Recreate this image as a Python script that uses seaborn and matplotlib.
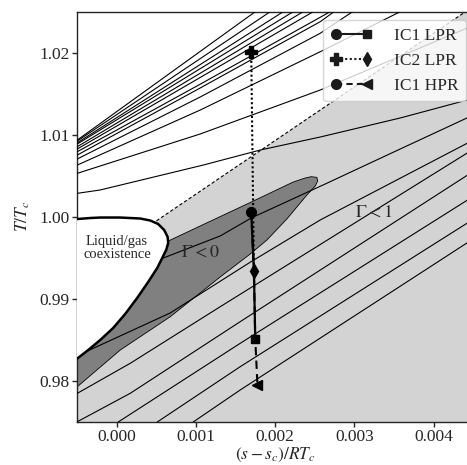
import numpy as np
import pandas as pd
import matplotlib
matplotlib.use("Agg")
import matplotlib.pyplot as plt
import seaborn as sns
from matplotlib.lines import Line2D
from matplotlib.legend_handler import HandlerTuple, HandlerLine2D

sns.set_theme(style="ticks")
plt.rcParams["font.family"] = ["Liberation Serif", "DejaVu Serif"]
plt.rcParams["mathtext.fontset"] = "stix"
plt.rcParams["axes.linewidth"] = 1.0

# ---------------- data ----------------
x_ticks = [0.000, 0.001, 0.002, 0.003, 0.004]
x_tick_labels = ["0.000", "0.001", "0.002", "0.003", "0.004"]
y_ticks = [0.98, 0.99, 1.00, 1.01, 1.02]
y_tick_labels = ["0.98", "0.99", "1.00", "1.01", "1.02"]

# liquid/gas coexistence boundary
coex_s = [-0.00060, -0.000497, -0.000337, -0.000211, 0.000042, 0.000295, 0.000420, 0.000521,
          0.000597, 0.000641, 0.000648, 0.000622, 0.000572, 0.000509, 0.000395, 0.000256,
          0.000105, -0.000047, -0.000211, -0.000362, -0.000497, -0.00060]
coex_T = [0.99972, 0.99972, 0.99984, 0.99990, 0.99990, 0.99978, 0.99954, 0.99911,
          0.99838, 0.99752, 0.99679, 0.99594, 0.99496, 0.99374, 0.99204, 0.99009,
          0.98814, 0.98643, 0.98496, 0.98374, 0.98273, 0.98273]

# Gamma < 0 region
dark_s = [-0.00060, 0.000631, 0.001052, 0.001683, 0.002226, 0.002378, 0.002453, 0.002525,
          0.002535, 0.002504, 0.002399, 0.002146, 0.001894, 0.001683, 0.001304, 0.000673,
          0.000042, -0.00060]
dark_T = [0.98148, 0.99695, 0.99887, 1.00173, 1.00423, 1.00472, 1.00488, 1.00480,
          1.00435, 1.00374, 1.00265, 0.99972, 0.99716, 0.99545, 0.99265, 0.98780,
          0.98374, 0.97844]

# Gamma < 1 region (below dashed boundary)
gamma1_s = [0.00050, 0.00460, 0.00460, -0.00060, -0.00060, 0.00050]
gamma1_T = [0.99950, 1.02630, 0.97000, 0.97000, 0.98273, 0.99950]
dash_s = [0.00050, 0.00460]
dash_T = [0.99950, 1.02630]

# isolines, upper family
upper_s = [
    [-0.00050, -0.000211, 0.000256, 0.001090, 0.001809, 0.002567, 0.003577, 0.004500],
    [-0.00050, 0.001052, 0.002567, 0.004423],
    [-0.00050, 0.001052, 0.002567, 0.003577, 0.003956],
    [-0.00050, 0.001052, 0.002567, 0.003198],
    [-0.00050, 0.001052, 0.002567, 0.002946],
    [-0.00050, 0.001052, 0.002693, 0.002946],
    [-0.00050, 0.002479, 0.002700],
    [-0.00050, 0.002352, 0.002600],
    [-0.00050, 0.002226, 0.002450],
    [-0.00050, 0.002100, 0.002300],
    [-0.00050, 0.001936, 0.002150],
    [-0.00050, 0.001747, 0.001950],
]
upper_T = [
    [1.00285, 1.00326, 1.00435, 1.00630, 1.00813, 1.00972, 1.01204, 1.01443],
    [1.00529, 1.01009, 1.01545, 1.02301],
    [1.00630, 1.01301, 1.02012, 1.02500, 1.02703],
    [1.00704, 1.01460, 1.02237, 1.02643],
    [1.00752, 1.01570, 1.02378, 1.02643],
    [1.00793, 1.01616, 1.02500, 1.02643],
    [1.00826, 1.02500, 1.02640],
    [1.00854, 1.02500, 1.02650],
    [1.00887, 1.02500, 1.02660],
    [1.00902, 1.02500, 1.02660],
    [1.00923, 1.02500, 1.02670],
    [1.00935, 1.02500, 1.02680],
]

# isolines, lower family
lower_s = [
    [0.000420, 0.000585, 0.001304, 0.001696, 0.002693, 0.003413, 0.004500],
    [-0.000400, 0.000673, 0.001683, 0.002567, 0.004500],
    [-0.00050, 0.000168, 0.001304, 0.004500],
    [-0.00050, 0.000168, 0.001557, 0.004500],
    [0.000016, 0.001557, 0.004500],
    [0.000509, 0.001557, 0.004500],
    [0.000963, 0.001557, 0.004500],
]
lower_T = [
    [0.99447, 0.99496, 0.99765, 0.99984, 1.00427, 1.00752, 1.01240],
    [0.98350, 0.98826, 0.99445, 0.99960, 1.00935],
    [0.97846, 0.98212, 0.98902, 1.00823],
    [0.97500, 0.97846, 0.98720, 1.00553],
    [0.97496, 0.98456, 1.00248],
    [0.97496, 0.98171, 0.99969],
    [0.97496, 0.97887, 0.99730],
]

# trajectories
ic1_lpr_s = [0.001696, 0.001730, 0.001747]
ic1_lpr_T = [1.00061, 0.99341, 0.98505]
ic2_lpr_s = [0.001696, 0.001730]
ic2_lpr_T = [1.02012, 0.99341]
ic1_hpr_s = [0.001696, 0.001730, 0.001747, 0.001775]
ic1_hpr_T = [1.00061, 0.99341, 0.98505, 0.97948]

legend_labels = ["IC1 LPR", "IC2 LPR", "IC1 HPR"]

# ---------------- figure ----------------
fig = plt.figure(figsize=(4.67, 4.65), dpi=100)
ax = fig.add_axes([0.1655, 0.0931, 0.848, 0.8817])
ax.set_xlim(-0.0005, 0.0045)
ax.set_ylim(0.975, 1.025)
ax.set_facecolor("white")

ax.fill(gamma1_s, gamma1_T, facecolor="#d3d3d3", edgecolor="none", zorder=1)
ax.fill(dark_s, dark_T, facecolor="#808080", edgecolor="black", lw=0.6, zorder=2)

for s, t in zip(upper_s + lower_s, upper_T + lower_T):
    sns.lineplot(x=s, y=t, sort=False, estimator=None, color="black", lw=0.8,
                 ax=ax, zorder=3)

ax.plot(dash_s, dash_T, color="black", lw=0.8, ls=(0, (3, 2)), zorder=3)
ax.fill(coex_s, coex_T, facecolor="white", edgecolor="black", lw=1.8, zorder=4)

ax.text(0.0, 0.99618, "Liquid/gas\ncoexistence", ha="center", va="center",
        fontsize=10.5, linespacing=1.0, zorder=5)
ax.text(0.00105, 0.99573, r"$\Gamma < 0$", ha="center", va="center", fontsize=13, zorder=5)
ax.text(0.00324, 1.00061, r"$\Gamma < 1$", ha="center", va="center", fontsize=13, zorder=5)

ax.plot(ic1_hpr_s, ic1_hpr_T, color="black", lw=1.5, ls=(0, (4, 2.5)), zorder=6)
ax.plot(ic1_hpr_s[-1:], ic1_hpr_T[-1:], color="black", marker="<", ms=7, ls="none", zorder=7)
ax.plot(ic1_lpr_s, ic1_lpr_T, color="black", lw=1.6, zorder=6)
ax.plot(ic1_lpr_s[:1], ic1_lpr_T[:1], color="black", marker="o", ms=7, ls="none", zorder=7)
ax.plot(ic1_lpr_s[-1:], ic1_lpr_T[-1:], color="black", marker="s", ms=6, ls="none", zorder=7)
ax.plot(ic2_lpr_s, ic2_lpr_T, color="black", lw=1.5, ls=(0, (1, 1.2)), zorder=6)
ax.plot(ic2_lpr_s[:1], ic2_lpr_T[:1], color="black", marker="P", ms=8, ls="none", zorder=7)
ax.plot(ic2_lpr_s[-1:], ic2_lpr_T[-1:], color="black", marker="d", ms=7, ls="none", zorder=7)

ax.set_xticks(x_ticks)
ax.set_xticklabels(x_tick_labels)
ax.set_yticks(y_ticks)
ax.set_yticklabels(y_tick_labels)
ax.tick_params(axis="both", labelsize=12.5, length=3.5, width=1.0, direction="out", pad=2)
ax.set_xlabel(r"$(s - s_c)/RT_c$", fontsize=12.5, labelpad=0)
ax.set_ylabel(r"$T/T_c$", fontsize=12.5, labelpad=5)
ax.spines["right"].set_visible(False)


class EndMarkerHandler(HandlerLine2D):
    """Draw the handle's marker only at one end of the legend line."""

    def __init__(self, index, **kw):
        super().__init__(**kw)
        self.index = index

    def create_artists(self, legend, orig_handle, xdescent, ydescent, width, height,
                       fontsize, trans):
        arts = super().create_artists(legend, orig_handle, xdescent, ydescent, width,
                                      height, fontsize, trans)
        for a in arts:
            a.set_markevery([self.index])
        return arts


handler_map = {tuple: HandlerTuple(ndivide=1, pad=0)}
handles = []
for ls, m0, ms0, m1, ms1 in [("-", "o", 7, "s", 6),
                              ((0, (1, 1.2)), "P", 8, "d", 7),
                              ((0, (3, 2)), "o", 7, "<", 7)]:
    body = Line2D([0, 1], [0, 0], color="k", lw=1.5, ls=ls)
    start = Line2D([0, 1], [0, 0], color="k", ls="none", marker=m0, ms=ms0)
    end = Line2D([0, 1], [0, 0], color="k", ls="none", marker=m1, ms=ms1)
    handler_map[start] = EndMarkerHandler(0)
    handler_map[end] = EndMarkerHandler(1)
    handles.append((body, start, end))

leg = ax.legend(handles, legend_labels, handler_map=handler_map,
                numpoints=2, loc="upper right", bbox_to_anchor=(466 / 467, 1 - 20 / 465),
                bbox_transform=fig.transFigure, borderaxespad=0, fontsize=12.5,
                handlelength=2.35, handletextpad=1.25, borderpad=0.45,
                frameon=True, fancybox=True, framealpha=0.8, edgecolor="#cccccc")
leg.set_zorder(10)

fig.savefig("out.png", dpi=100)
